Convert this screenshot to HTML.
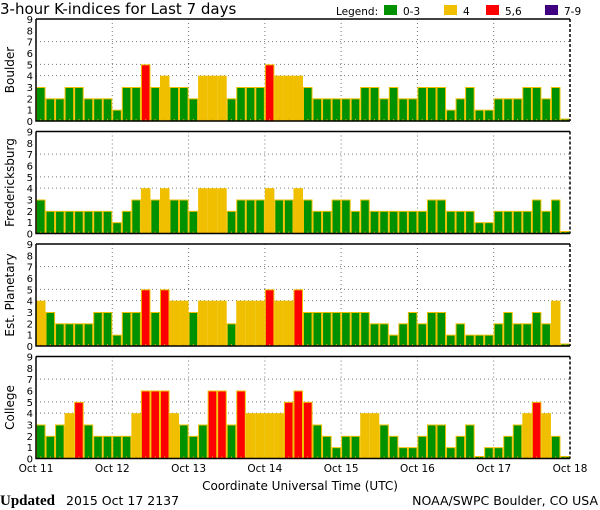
<!DOCTYPE html>
<html><head><meta charset="utf-8"><style>
html,body{margin:0;padding:0;background:#fff;width:600px;height:510px;overflow:hidden}
svg{display:block}
text{font-family:"DejaVu Sans","Liberation Sans",sans-serif;fill:#000}
</style></head><body>
<svg id="s" width="600" height="510" viewBox="0 0 600 510" xmlns="http://www.w3.org/2000/svg">
<text x="0" y="14" font-size="15">3-hour K-indices for Last 7 days</text>
<text x="336" y="15" font-size="10.5">Legend:</text>
<rect x="384" y="5" width="13" height="10" fill="#009100"/><text x="403" y="15" font-size="10.5">0-3</text>
<rect x="444" y="5" width="13" height="10" fill="#f0c000"/><text x="463" y="15" font-size="10.5">4</text>
<rect x="486" y="5" width="13" height="10" fill="#ff0000"/><text x="505" y="15" font-size="10.5">5,6</text>
<rect x="545" y="5" width="13" height="10" fill="#400080"/><text x="564" y="15" font-size="10.5">7-9</text>
<g id="g"></g>
<text x="300" y="490" font-size="12" text-anchor="middle">Coordinate Universal Time (UTC)</text>
<text x="0" y="505" font-size="15" style="font-family:'Liberation Serif',serif" font-weight="bold">Updated</text>
<text x="66" y="505" font-size="12.5">2015 Oct 17 2137</text>
<text x="598" y="505" font-size="12.5" text-anchor="end">NOAA/SWPC Boulder, CO USA</text>
</svg>
<script>
var data=[
["Boulder",[3,2,2,3,3,2,2,2,1,3,3,5,3,4,3,3,2,4,4,4,2,3,3,3,5,4,4,4,3,2,2,2,2,2,3,3,2,3,2,2,3,3,3,1,2,3,1,1,2,2,2,3,3,2,3,0.2]],
["Fredericksburg",[3,2,2,2,2,2,2,2,1,2,3,4,3,4,3,3,2,4,4,4,2,3,3,3,4,3,3,4,3,2,2,3,3,2,3,2,2,2,2,2,2,3,3,2,2,2,1,1,2,2,2,2,3,2,3,0.2]],
["Est. Planetary",[4,3,2,2,2,2,3,3,1,3,3,5,3,5,4,4,3,4,4,4,2,4,4,4,5,4,4,5,3,3,3,3,3,3,3,2,2,1,2,3,2,3,3,1,2,1,1,1,2,3,2,2,3,2,4,0.2]],
["College",[3,2,3,4,5,3,2,2,2,2,4,6,6,6,4,3,2,3,6,6,3,6,4,4,4,4,5,6,5,3,2,1,2,2,4,4,3,2,1,1,2,3,3,1,2,3,0.2,1,1,2,3,4,5,4,2,0.2]]
];
var tops=[19,131.5,244,356.5],H=102,L=36,R=570,bw=(R-L)/56,u=H/9,o='';
function col(v){return v>=7?'#400080':v>=5?'#ff0000':v>=4?'#f0c000':'#009100';}
data.forEach(function(d,p){
 var t=tops[p],b=t+H;
 [4,5,7].forEach(function(k){var y=b-k*u;o+='<line x1="'+L+'" x2="'+R+'" y1="'+y+'" y2="'+y+'" stroke="#777" stroke-dasharray="1,3"/>';});
 for(var i=1;i<7;i++){var x=L+i*8*bw;o+='<line x1="'+x+'" x2="'+x+'" y1="'+t+'" y2="'+b+'" stroke="#777" stroke-dasharray="1,3"/>';}
 d[1].forEach(function(v,i){var x=L+i*bw,h=Math.max(v*u,2.5),c=col(v);
  o+='<rect x="'+(x+0.5)+'" y="'+(b-h+0.5)+'" width="'+(bw-1)+'" height="'+(h-0.5)+'" fill="'+c+'" stroke="#f0c000" stroke-width="1"/>';
  o+='<rect x="'+(x+bw/2-0.5)+'" y="'+(b-2)+'" width="1" height="2" fill="#f0a000"/>';});
 o+='<path d="M'+L+' '+t+'H'+R+'M'+L+' '+t+'V'+b+'H'+R+'" stroke="#000" stroke-width="1.5" fill="none"/>';
 o+='<line x1="'+R+'" x2="'+R+'" y1="'+t+'" y2="'+b+'" stroke="#000" stroke-width="1.5" stroke-dasharray="3,2"/>';
 for(var k=0;k<=9;k++){o+='<text x="33" y="'+(b-k*u+4)+'" font-size="10" text-anchor="end">'+k+'</text>';}
 var cy=t+H/2;o+='<text x="14" y="'+cy+'" font-size="12" text-anchor="middle" transform="rotate(-90 14 '+cy+')">'+d[0]+'</text>';
});
for(var i=0;i<=7;i++){o+='<text x="'+(L+i*8*bw)+'" y="472" font-size="10.5" text-anchor="middle">Oct '+(11+i)+'</text>';}
document.getElementById('g').innerHTML=o;
</script>
</body></html>
